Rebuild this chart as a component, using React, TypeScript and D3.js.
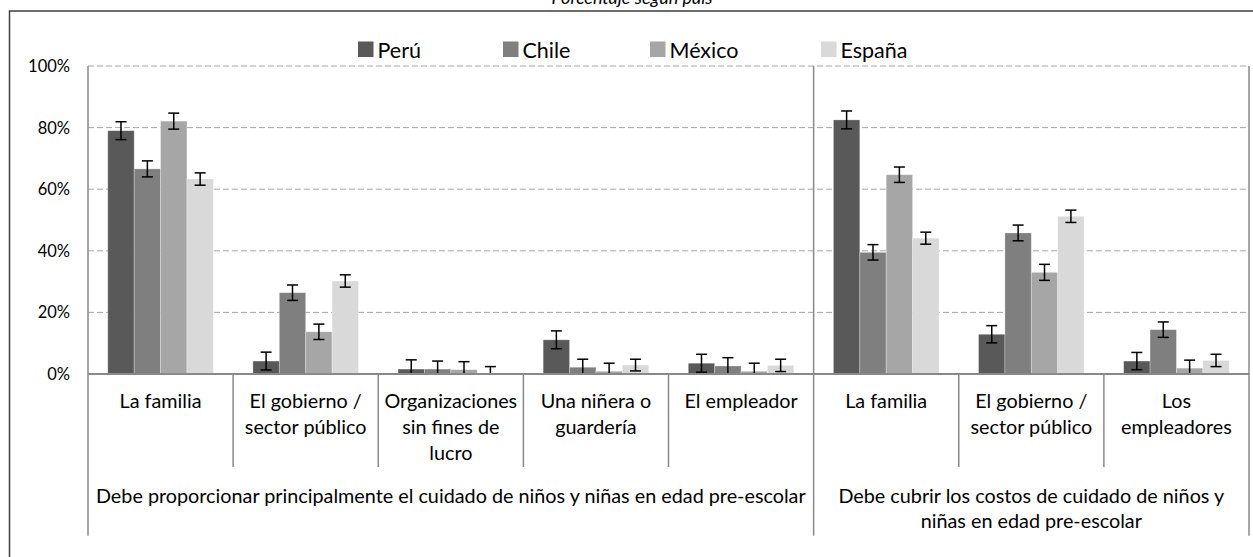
import React from "react";
import * as d3 from "d3";

const categories: string[][] = [
  ["La familia"],
  ["El gobierno /", "sector público"],
  ["Organizaciones", "sin fines de", "lucro"],
  ["Una niñera o", "guardería"],
  ["El empleador"],
  ["La familia"],
  ["El gobierno /", "sector público"],
  ["Los", "empleadores"],
];
const groupLabels: string[][] = [
  ["Debe proporcionar principalmente el cuidado de niños y niñas en edad pre-escolar"],
  ["Debe cubrir los costos de cuidado de niños y", "niñas en edad pre-escolar"],
];
const groupSizes = [5, 3];
const seriesNames = ["Perú", "Chile", "México", "España"];
const seriesColors = ["#595959", "#7f7f7f", "#a6a6a6", "#d9d9d9"];

const peru = [79.0, 4.2, 1.6, 11.1, 3.5, 82.5, 12.9, 4.2];
const chile = [66.6, 26.4, 1.6, 2.2, 2.6, 39.5, 45.8, 14.4];
const mexico = [82.1, 13.7, 1.4, 0.9, 0.9, 64.7, 33.0, 1.9];
const spain = [63.3, 30.2, 0.3, 2.9, 2.8, 44.1, 51.2, 4.4];

const peruErr = [2.9, 2.9, 3.0, 2.9, 2.9, 2.9, 2.8, 2.8];
const chileErr = [2.6, 2.5, 2.6, 2.6, 2.7, 2.5, 2.55, 2.5];
const mexicoErr = [2.6, 2.5, 2.6, 2.6, 2.6, 2.5, 2.6, 2.6];
const spainErr = [2.0, 2.0, 2.1, 1.9, 2.0, 1.95, 2.0, 2.0];

const yTicks = [0, 20, 40, 60, 80, 100];
const title = "Porcentaje según país";

const values = [peru, chile, mexico, spain];
const errors = [peruErr, chileErr, mexicoErr, spainErr];

const W = 1253;
const H = 557;
const FONT = "Lato, 'Liberation Sans', sans-serif";

export default function App() {
  const left = 88;
  const right = 1249;
  const top = 66;
  const bottom = 374;

  const x = d3
    .scaleBand<number>()
    .domain(d3.range(categories.length))
    .range([left, right])
    .paddingInner(0)
    .paddingOuter(0);
  const xs = d3
    .scaleBand<number>()
    .domain(d3.range(seriesNames.length))
    .range([0, x.bandwidth()])
    .paddingInner(0)
    .paddingOuter(0.75);
  const y = d3.scaleLinear().domain([0, 100]).range([bottom, top]);

  const groupBounds: [number, number][] = [];
  let start = 0;
  groupSizes.forEach((s) => {
    groupBounds.push([start, start + s]);
    start += s;
  });
  const bx = (i: number) => (i < categories.length ? (x(i) as number) : right);

  const legendX = [358, 503, 650, 821];

  return (
    <svg
      width={W}
      height={H}
      style={{ position: "absolute", left: 0, top: 0, background: "#fff" }}
      fontFamily={FONT}
    >
      <defs>
        <clipPath id="plotclip">
          <rect x={left} y={top - 20} width={right - left} height={bottom - top + 20} />
        </clipPath>
      </defs>
      <rect x={0} y={0} width={W} height={H} fill="#fff" />
      <rect x={9.5} y={11} width={1400} height={800} fill="none" stroke="#3f3f3f" strokeWidth={1.5} />
      <text x={632} y={4} textAnchor="middle" fontStyle="italic" fontSize={18} fill="#000">
        {title}
      </text>

      {seriesNames.map((n, i) => (
        <g key={n}>
          <rect x={legendX[i]} y={41.5} width={15.5} height={15.5} fill={seriesColors[i]} />
          <text x={legendX[i] + 19.5} y={57.5} fontSize={21.5} fill="#000">
            {n}
          </text>
        </g>
      ))}

      {yTicks
        .filter((t) => t > 0)
        .map((t) => (
          <line
            key={t}
            x1={left}
            x2={right}
            y1={y(t)}
            y2={y(t)}
            stroke="#a6a6a6"
            strokeWidth={1}
            strokeDasharray="6,3"
          />
        ))}

      {yTicks.map((t) => (
        <text key={t} x={70} y={y(t) + 6} textAnchor="end" fontSize={16.5} fill="#000">
          {t + "%"}
        </text>
      ))}

      {values.map((vals, s) =>
        vals.map((v, c) => (
          <rect
            key={s + "-" + c}
            x={(x(c) as number) + (xs(s) as number)}
            y={y(v)}
            width={xs.bandwidth()}
            height={y(0) - y(v)}
            fill={seriesColors[s]}
            stroke="#ffffff"
            strokeOpacity={0.35}
            strokeWidth={0.8}
          />
        ))
      )}

      <g clipPath="url(#plotclip)">
        {values.map((vals, s) =>
          vals.map((v, c) => {
            const cx = (x(c) as number) + (xs(s) as number) + xs.bandwidth() / 2;
            const e = errors[s][c];
            const y1 = y(v + e);
            const y2 = y(v - e);
            const hw = 5.5;
            return (
              <g key={"e" + s + "-" + c} stroke="#000" strokeWidth={1.5}>
                <line x1={cx} x2={cx} y1={y1} y2={y2} />
                <line x1={cx - hw} x2={cx + hw} y1={y1} y2={y1} />
                <line x1={cx - hw} x2={cx + hw} y1={y2} y2={y2} />
              </g>
            );
          })
        )}
      </g>

      <line x1={left} x2={right} y1={bottom} y2={bottom} stroke="#898989" strokeWidth={2} />
      {groupBounds.map(([a], gi) => (
        <line key={"g" + gi} x1={bx(a)} x2={bx(a)} y1={top} y2={535.7} stroke="#898989" strokeWidth={1.5} />
      ))}
      <line x1={right} x2={right} y1={top} y2={535.7} stroke="#898989" strokeWidth={1.5} />
      {categories.map((_, i) => {
        const isGroupStart = groupBounds.some(([a]) => a === i);
        if (isGroupStart) return null;
        return (
          <line key={"c" + i} x1={bx(i)} x2={bx(i)} y1={bottom} y2={467} stroke="#898989" strokeWidth={1.5} />
        );
      })}

      {categories.map((lines, i) => (
        <text key={"cl" + i} textAnchor="middle" fontSize={19.8} fill="#000">
          {lines.map((l, k) => (
            <tspan key={k} x={(x(i) as number) + x.bandwidth() / 2} y={408.3 + k * 25.8}>
              {l}
            </tspan>
          ))}
        </text>
      ))}

      {groupLabels.map((lines, gi) => {
        const [a, b] = groupBounds[gi];
        const cx = (bx(a) + bx(b)) / 2;
        return (
          <text key={"gl" + gi} textAnchor="middle" fontSize={19.8} fill="#000">
            {lines.map((l, k) => (
              <tspan key={k} x={cx} y={502.7 + k * 25.7}>
                {l}
              </tspan>
            ))}
          </text>
        );
      })}
    </svg>
  );
}
